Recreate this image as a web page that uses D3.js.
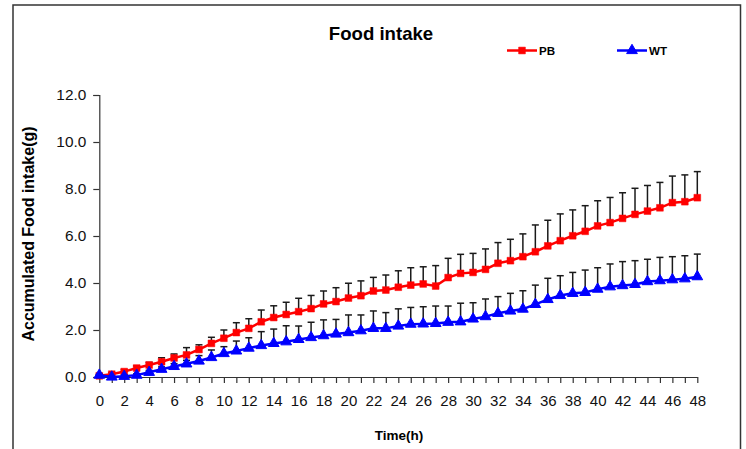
<!DOCTYPE html>
<html>
<head>
<meta charset="utf-8">
<script src="https://cdn.jsdelivr.net/npm/d3@7"></script>
<style>
  html, body { margin: 0; padding: 0; background: #fff; }
  svg { display: block; font-family: "Liberation Sans", Arial, sans-serif; }
</style>
</head>
<body>
<svg id="chart" width="746" height="449"></svg>
<script>
// Sampling hours 0..48
const hours = [0,1,2,3,4,5,6,7,8,9,10,11,12,13,14,15,16,17,18,19,20,21,22,23,24,
  25,26,27,28,29,30,31,32,33,34,35,36,37,38,39,40,41,42,43,44,45,46,47,48];

// Accumulated food intake (g), mean per group
const pbMean = [0.05,0.12,0.23,0.38,0.51,0.65,0.81,0.94,1.17,1.43,1.65,1.89,2.07,2.35,2.53,2.66,2.78,2.91,3.11,3.21,3.36,3.46,3.66,3.70,3.82,
  3.91,3.96,3.87,4.23,4.41,4.45,4.58,4.84,4.95,5.12,5.33,5.58,5.80,6.01,6.20,6.43,6.57,6.75,6.92,7.06,7.20,7.42,7.46,7.63];
const wtMean = [0.08,0.00,0.03,0.08,0.20,0.33,0.45,0.56,0.68,0.83,1.00,1.11,1.23,1.34,1.43,1.50,1.60,1.68,1.76,1.83,1.89,1.97,2.07,2.07,2.17,
  2.25,2.26,2.28,2.33,2.35,2.47,2.57,2.71,2.81,2.89,3.09,3.30,3.47,3.56,3.60,3.74,3.84,3.89,3.94,4.06,4.10,4.14,4.18,4.27];

// Upper error (g)
const pbErr = [0.05,0.06,0.08,0.09,0.11,0.17,0.17,0.31,0.20,0.26,0.35,0.42,0.41,0.50,0.50,0.52,0.57,0.56,0.55,0.59,0.63,0.63,0.58,0.64,0.70,
  0.74,0.73,0.87,0.82,0.81,0.81,0.87,0.88,0.91,0.97,1.14,1.09,1.14,1.10,1.09,1.07,1.07,1.09,1.11,1.09,1.08,1.13,1.14,1.11];
const wtErr = [0.04,0.04,0.05,0.06,0.08,0.10,0.12,0.15,0.23,0.32,0.29,0.42,0.44,0.59,0.61,0.68,0.57,0.65,0.67,0.62,0.75,0.67,0.74,0.67,0.73,
  0.71,0.73,0.74,0.69,0.79,0.69,0.75,0.71,0.75,0.78,0.82,0.90,0.84,0.89,0.95,0.91,0.97,1.02,1.01,0.95,0.99,0.98,0.98,0.96];

const seriesNames = ["PB", "WT"];
const yTicks = [0, 2, 4, 6, 8, 10, 12];
const xLabelTicks = [0,2,4,6,8,10,12,14,16,18,20,22,24,26,28,30,32,34,36,38,40,42,44,46,48];

const series = [
  { name: seriesNames[0], mean: pbMean, err: pbErr, color: "#ff0000", marker: "square" },
  { name: seriesNames[1], mean: wtMean, err: wtErr, color: "#0000ff", marker: "triangle" }
];

const svg = d3.select("#chart");
const FONT = "'Liberation Sans', Arial, sans-serif";

// outer frame
svg.append("rect")
  .attr("x", 13).attr("y", 5).attr("width", 727.5).attr("height", 470)
  .attr("fill", "none").attr("stroke", "#333").attr("stroke-width", 1.5);

const x = d3.scaleLinear().domain([0, 48]).range([99.3, 697.3]);
const y = d3.scaleLinear().domain([0, 12]).range([377, 95]);

// axes
const yAxis = d3.axisLeft(y).tickValues(yTicks).tickFormat(d3.format(".1f")).tickSize(6).tickPadding(7);
const gy = svg.append("g").attr("transform", `translate(${x(0)},0)`).call(yAxis);
gy.select(".domain").attr("stroke", "#333").attr("stroke-width", 1.2);
gy.selectAll(".tick line").attr("stroke", "#333").attr("stroke-width", 1.2);
gy.selectAll(".tick text").attr("font-family", FONT).attr("font-size", 15.4).attr("fill", "#111");

const xAxis = d3.axisBottom(x).tickValues(hours)
  .tickFormat(d => xLabelTicks.includes(d) ? String(d) : "")
  .tickSize(6).tickSizeOuter(0).tickPadding(12);
const gx = svg.append("g").attr("transform", `translate(0,${y(0)})`).call(xAxis);
gx.select(".domain").attr("stroke", "#333").attr("stroke-width", 1.2);
gx.selectAll(".tick line").attr("stroke", "#333").attr("stroke-width", 1.2);
gx.selectAll(".tick text").attr("font-family", FONT).attr("font-size", 15).attr("fill", "#111");

// titles
svg.append("text").attr("x", 381).attr("y", 39.5).attr("text-anchor", "middle")
  .attr("font-family", FONT).attr("font-weight", "bold").attr("font-size", 18.6)
  .attr("fill", "#000").text("Food intake");

svg.append("text").attr("x", 399).attr("y", 440).attr("text-anchor", "middle")
  .attr("font-family", FONT).attr("font-weight", "bold").attr("font-size", 13.5)
  .attr("fill", "#000").text("Time(h)");

svg.append("text")
  .attr("transform", "translate(34,234) rotate(-90)")
  .attr("text-anchor", "middle")
  .attr("font-family", FONT).attr("font-weight", "bold").attr("font-size", 16)
  .attr("fill", "#000").text("Accumulated Food intake(g)");

// marker shapes
const squareSym = d3.symbol().type(d3.symbolSquare).size(46);
const triSym = d3.symbol().type(d3.symbolTriangle).size(50);
function drawMarker(g, type, cx, cy, color) {
  g.append("path")
    .attr("d", type === "square" ? squareSym() : triSym())
    .attr("transform", `translate(${cx},${cy})`)
    .attr("fill", color).attr("stroke", color).attr("stroke-width", type === "square" ? 0.5 : 1);
}

const line = d3.line().x((d, i) => x(hours[i])).y(d => y(d));

series.forEach(s => {
  const g = svg.append("g");
  // upper error bars
  const eb = g.append("g");
  s.mean.forEach((m, i) => {
    const top = y(m + s.err[i]);
    eb.append("line").attr("x1", x(hours[i])).attr("x2", x(hours[i]))
      .attr("y1", y(m)).attr("y2", top).attr("stroke", "#1a1a1a").attr("stroke-width", 1.5);
    eb.append("line").attr("x1", x(hours[i]) - 3.5).attr("x2", x(hours[i]) + 3.5)
      .attr("y1", top).attr("y2", top).attr("stroke", "#1a1a1a").attr("stroke-width", 1.5);
  });
  g.append("path").datum(s.mean).attr("d", line)
    .attr("fill", "none").attr("stroke", s.color).attr("stroke-width", 2.5);
  s.mean.forEach((m, i) => drawMarker(g, s.marker, x(hours[i]), y(m), s.color));
});

// legend
const legendPos = [{ x0: 507, x1: 537 }, { x0: 617, x1: 647 }];
series.forEach((s, k) => {
  const lp = legendPos[k];
  const lg = svg.append("g");
  lg.append("line").attr("x1", lp.x0).attr("x2", lp.x1).attr("y1", 50.5).attr("y2", 50.5)
    .attr("stroke", s.color).attr("stroke-width", 2.5);
  drawMarker(lg, s.marker, (lp.x0 + lp.x1) / 2, 50.5, s.color);
  lg.append("text").attr("x", lp.x1 + 2).attr("y", 55)
    .attr("font-family", FONT).attr("font-weight", "bold").attr("font-size", 11.6)
    .attr("fill", "#000").text(s.name);
});
</script>
</body>
</html>
